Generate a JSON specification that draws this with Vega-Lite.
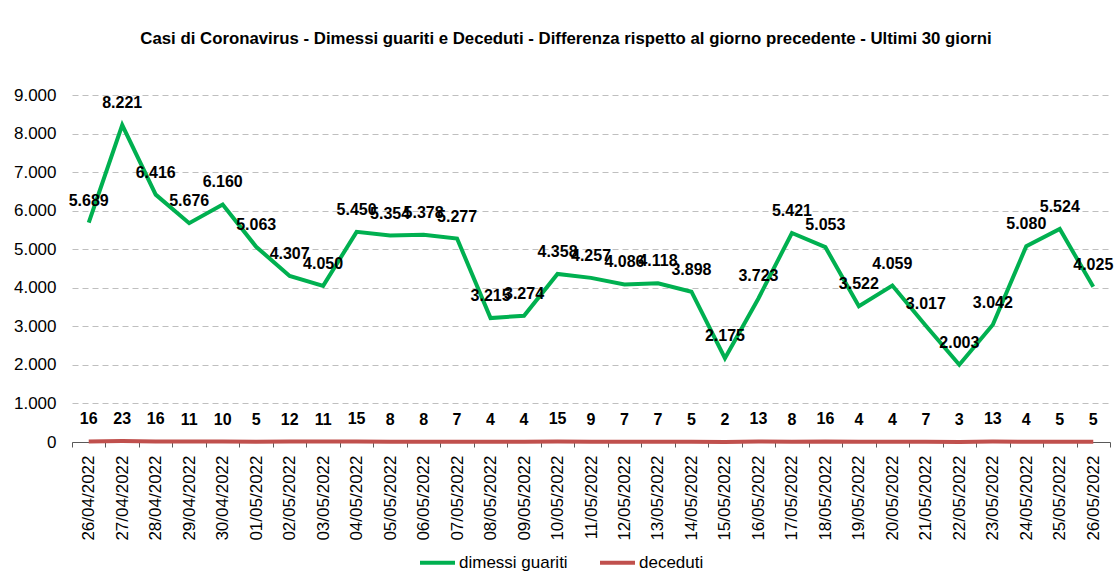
{
  "$schema": "https://vega.github.io/schema/vega-lite/v6.json",
  "width": 1038,
  "height": 347,
  "autosize": {"type": "none"},
  "padding": {"left": 72, "top": 95, "right": 6, "bottom": 129},
  "background": "white",
  "config": {
    "locale": {"number": {"decimal": ",", "thousands": ".", "grouping": [3], "currency": ["€", ""]}},
    "font": "Liberation Sans",
    "view": {"stroke": null}
  },
  "title": {
    "text": "Casi di Coronavirus - Dimessi guariti e Deceduti - Differenza rispetto al giorno precedente - Ultimi 30 giorni",
    "font": "Liberation Sans",
    "fontSize": 16.8,
    "fontWeight": "bold",
    "color": "black",
    "anchor": "middle",
    "offset": 38,
    "dx": -25
  },
  "data": {
    "values": [
      {"data": "26/04/2022", "serie": "dimessi guariti", "valore": 5689},
      {"data": "27/04/2022", "serie": "dimessi guariti", "valore": 8221},
      {"data": "28/04/2022", "serie": "dimessi guariti", "valore": 6416},
      {"data": "29/04/2022", "serie": "dimessi guariti", "valore": 5676},
      {"data": "30/04/2022", "serie": "dimessi guariti", "valore": 6160},
      {"data": "01/05/2022", "serie": "dimessi guariti", "valore": 5063},
      {"data": "02/05/2022", "serie": "dimessi guariti", "valore": 4307},
      {"data": "03/05/2022", "serie": "dimessi guariti", "valore": 4050},
      {"data": "04/05/2022", "serie": "dimessi guariti", "valore": 5450},
      {"data": "05/05/2022", "serie": "dimessi guariti", "valore": 5354},
      {"data": "06/05/2022", "serie": "dimessi guariti", "valore": 5378},
      {"data": "07/05/2022", "serie": "dimessi guariti", "valore": 5277},
      {"data": "08/05/2022", "serie": "dimessi guariti", "valore": 3215},
      {"data": "09/05/2022", "serie": "dimessi guariti", "valore": 3274},
      {"data": "10/05/2022", "serie": "dimessi guariti", "valore": 4358},
      {"data": "11/05/2022", "serie": "dimessi guariti", "valore": 4257},
      {"data": "12/05/2022", "serie": "dimessi guariti", "valore": 4086},
      {"data": "13/05/2022", "serie": "dimessi guariti", "valore": 4118},
      {"data": "14/05/2022", "serie": "dimessi guariti", "valore": 3898},
      {"data": "15/05/2022", "serie": "dimessi guariti", "valore": 2175},
      {"data": "16/05/2022", "serie": "dimessi guariti", "valore": 3723},
      {"data": "17/05/2022", "serie": "dimessi guariti", "valore": 5421},
      {"data": "18/05/2022", "serie": "dimessi guariti", "valore": 5053},
      {"data": "19/05/2022", "serie": "dimessi guariti", "valore": 3522},
      {"data": "20/05/2022", "serie": "dimessi guariti", "valore": 4059},
      {"data": "21/05/2022", "serie": "dimessi guariti", "valore": 3017},
      {"data": "22/05/2022", "serie": "dimessi guariti", "valore": 2003},
      {"data": "23/05/2022", "serie": "dimessi guariti", "valore": 3042},
      {"data": "24/05/2022", "serie": "dimessi guariti", "valore": 5080},
      {"data": "25/05/2022", "serie": "dimessi guariti", "valore": 5524},
      {"data": "26/05/2022", "serie": "dimessi guariti", "valore": 4025},
      {"data": "26/04/2022", "serie": "deceduti", "valore": 16},
      {"data": "27/04/2022", "serie": "deceduti", "valore": 23},
      {"data": "28/04/2022", "serie": "deceduti", "valore": 16},
      {"data": "29/04/2022", "serie": "deceduti", "valore": 11},
      {"data": "30/04/2022", "serie": "deceduti", "valore": 10},
      {"data": "01/05/2022", "serie": "deceduti", "valore": 5},
      {"data": "02/05/2022", "serie": "deceduti", "valore": 12},
      {"data": "03/05/2022", "serie": "deceduti", "valore": 11},
      {"data": "04/05/2022", "serie": "deceduti", "valore": 15},
      {"data": "05/05/2022", "serie": "deceduti", "valore": 8},
      {"data": "06/05/2022", "serie": "deceduti", "valore": 8},
      {"data": "07/05/2022", "serie": "deceduti", "valore": 7},
      {"data": "08/05/2022", "serie": "deceduti", "valore": 4},
      {"data": "09/05/2022", "serie": "deceduti", "valore": 4},
      {"data": "10/05/2022", "serie": "deceduti", "valore": 15},
      {"data": "11/05/2022", "serie": "deceduti", "valore": 9},
      {"data": "12/05/2022", "serie": "deceduti", "valore": 7},
      {"data": "13/05/2022", "serie": "deceduti", "valore": 7},
      {"data": "14/05/2022", "serie": "deceduti", "valore": 5},
      {"data": "15/05/2022", "serie": "deceduti", "valore": 2},
      {"data": "16/05/2022", "serie": "deceduti", "valore": 13},
      {"data": "17/05/2022", "serie": "deceduti", "valore": 8},
      {"data": "18/05/2022", "serie": "deceduti", "valore": 16},
      {"data": "19/05/2022", "serie": "deceduti", "valore": 4},
      {"data": "20/05/2022", "serie": "deceduti", "valore": 4},
      {"data": "21/05/2022", "serie": "deceduti", "valore": 7},
      {"data": "22/05/2022", "serie": "deceduti", "valore": 3},
      {"data": "23/05/2022", "serie": "deceduti", "valore": 13},
      {"data": "24/05/2022", "serie": "deceduti", "valore": 4},
      {"data": "25/05/2022", "serie": "deceduti", "valore": 5},
      {"data": "26/05/2022", "serie": "deceduti", "valore": 5}
    ]
  },
  "encoding": {
    "x": {
      "field": "data",
      "type": "ordinal",
      "sort": null,
      "title": null,
      "scale": {"paddingInner": 0, "paddingOuter": 0},
      "axis": {
        "labelAngle": -90,
        "labelFontSize": 17,
        "labelColor": "black",
        "labelPadding": 8,
        "labelBaseline": "middle",
        "tickBand": "extent",
        "domainColor": "#595959",
        "tickColor": "#595959",
        "tickSize": 5,
        "domainWidth": 1,
        "grid": false
      }
    },
    "y": {
      "field": "valore",
      "type": "quantitative",
      "title": null,
      "scale": {"domain": [0, 9000], "nice": false},
      "axis": {
        "values": [0, 1000, 2000, 3000, 4000, 5000, 6000, 7000, 8000, 9000],
        "format": ",d",
        "domain": false,
        "ticks": false,
        "labelFontSize": 17,
        "labelColor": "black",
        "labelPadding": 16,
        "grid": true,
        "gridColor": "#BFBFBF",
        "gridDash": [6, 4],
        "gridWidth": 1
      }
    }
  },
  "layer": [
    {
      "mark": {"type": "line", "strokeWidth": 4},
      "encoding": {
        "color": {
          "field": "serie",
          "type": "nominal",
          "sort": null,
          "title": null,
          "scale": {"domain": ["dimessi guariti", "deceduti"], "range": ["#00B050", "#C0504D"]},
          "legend": {
            "orient": "none",
            "direction": "horizontal",
            "legendX": 346,
            "legendY": 448,
            "symbolType": "stroke",
            "symbolSize": 1225,
            "symbolStrokeWidth": 4,
            "labelFontSize": 17,
            "labelColor": "black",
            "labelOffset": 2,
            "labelLimit": 300,
            "columnPadding": 24
          }
        }
      }
    },
    {
      "mark": {"type": "text", "fontWeight": "bold", "fontSize": 16, "dy": -22, "color": "black", "baseline": "middle"},
      "encoding": {
        "text": {"field": "valore", "type": "quantitative", "format": ",d"}
      }
    }
  ]
}
